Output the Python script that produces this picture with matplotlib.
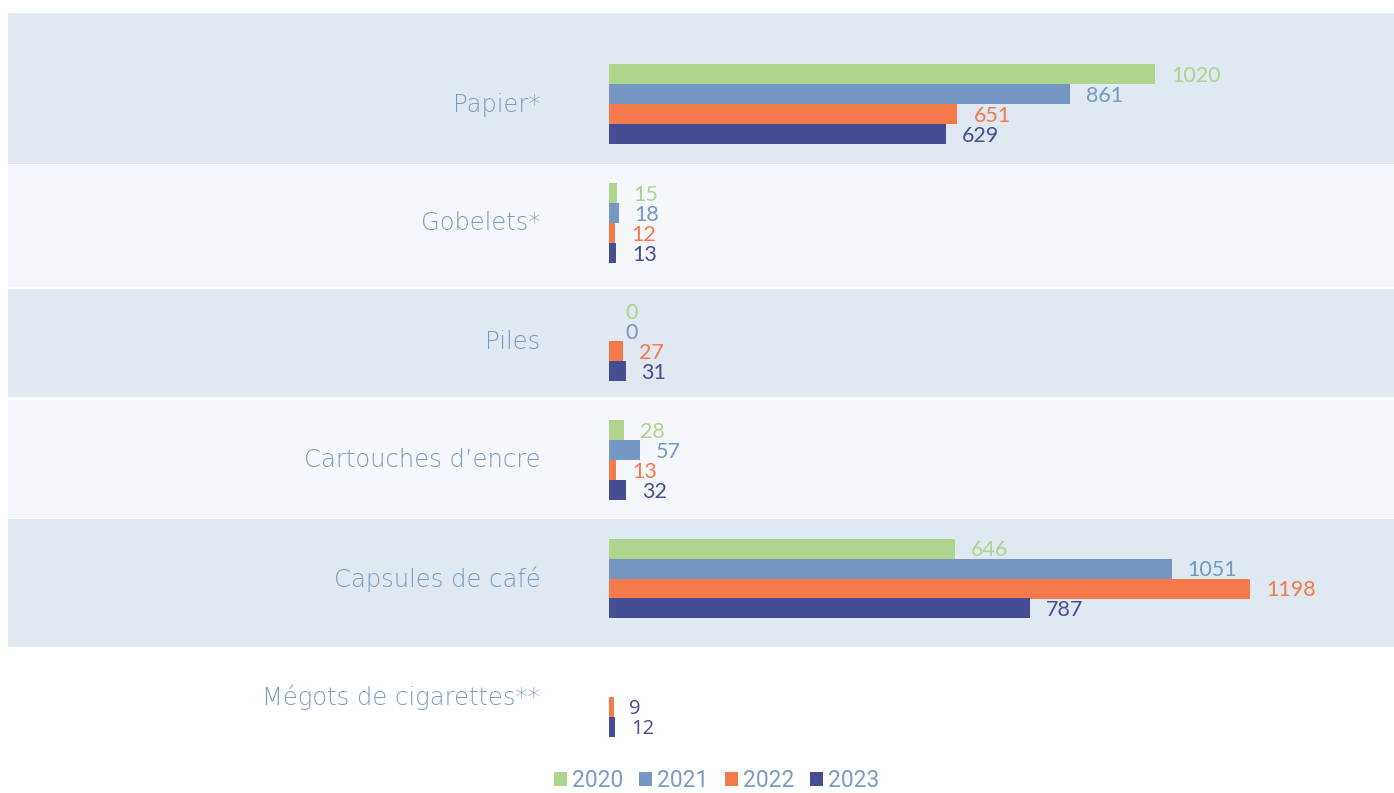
import numpy as np
import matplotlib
matplotlib.use("Agg")
import matplotlib.pyplot as plt
from matplotlib.patches import Patch

# data
categories = ["Papier*", "Gobelets*", "Piles", "Cartouches d\u2019encre",
              "Capsules de caf\u00e9", "M\u00e9gots de cigarettes**"]
years = ["2020", "2021", "2022", "2023"]
v2020 = [1020, 15, 0, 28, 646, np.nan]
v2021 = [861, 18, 0, 57, 1051, np.nan]
v2022 = [651, 12, 27, 13, 1198, 9]
v2023 = [629, 13, 31, 32, 787, 12]

colors = ["#AED48E", "#7597C4", "#F47A4B", "#474D93"]
label_color = "#7A9BC8"
band_dark = "#E0E8F1"
band_light = "#F5F7FB"

fig = plt.figure(figsize=(13.94, 7.93), dpi=100)
ax = fig.add_axes([0, 0, 1, 1])
ax.set_facecolor("white")

# pixel layout: zero line at x=609, 0.5353 px per unit; groups every 118.5 px
px_per_unit = 0.5353
ax.set_xlim(-609 / px_per_unit, (1394 - 609) / px_per_unit)
ax.set_ylim((793 - 104.5) / 118.5, -104.5 / 118.5)

# background bands
band_edges = [(-0.77, 0.50), (0.51, 1.54), (1.56, 2.47), (2.49, 3.49), (3.50, 4.58)]
for i, (top, bot) in enumerate(band_edges):
    ax.axhspan(top, bot, xmin=8 / 1394, xmax=1,
               color=band_dark if i % 2 == 0 else band_light, zorder=0, lw=0)

series = [v2020, v2021, v2022, v2023]
h = 20 / 118.5
y = np.arange(len(categories))
for k, vals in enumerate(series):
    yy = y - 1.5 * h + k * h
    vals = np.array(vals, dtype=float)
    ax.barh(yy, vals, height=h, color=colors[k], zorder=2)
    for j, v in enumerate(vals):
        if np.isnan(v):
            continue
        if j == len(categories) - 1:
            ax.annotate(str(int(v)), xy=(v, yy[j]), xytext=(11, 0),
                        textcoords="offset points", va="center_baseline", ha="left",
                        fontsize=14.5, family="Open Sans", color=colors[3])
        else:
            ax.annotate(str(int(v)), xy=(v, yy[j]), xytext=(11.5, 0),
                        textcoords="offset points", va="center_baseline", ha="left",
                        fontsize=15.5, family="Lato", color=colors[k])

for j, cat in enumerate(categories):
    ax.annotate(cat, xy=(0, j), xytext=(-49.5, 1.5),
                textcoords="offset points", va="center_baseline", ha="right",
                fontsize=17.5, family="DejaVu Sans", fontweight="light",
                color=label_color)

ax.axis("off")

handles = [Patch(facecolor=c, edgecolor="none") for c in colors]
fig.legend(handles, years, loc="center", bbox_to_anchor=(0.514, 0.016),
           ncol=4, frameon=False, prop={"family": "Roboto", "size": 16.5},
           handlelength=0.57, handleheight=0.57, handletextpad=0.22,
           columnspacing=0.7, labelcolor=label_color, borderpad=0.1)

fig.savefig("out.png", dpi=100)
